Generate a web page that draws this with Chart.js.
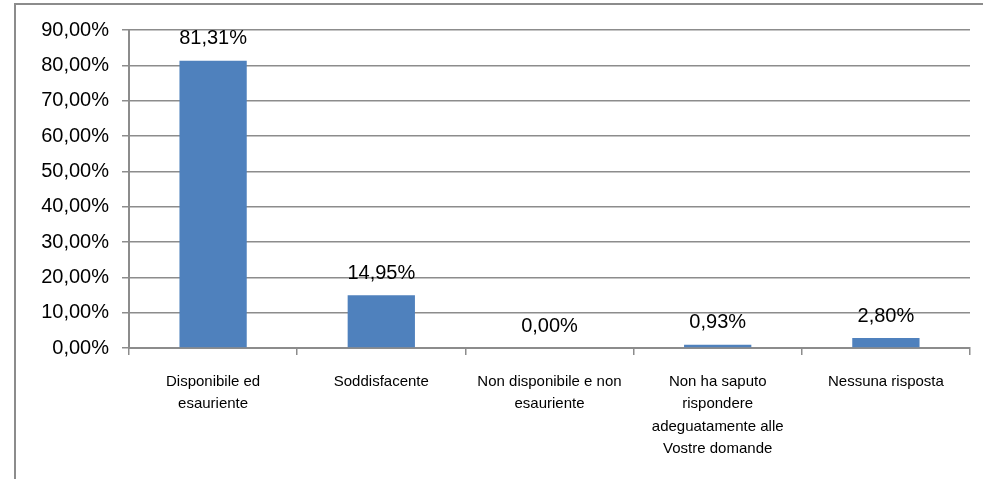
<!DOCTYPE html>
<html>
<head>
<meta charset="utf-8">
<script src="https://cdn.jsdelivr.net/npm/chart.js@4/dist/chart.umd.min.js"></script>
<style>
  html, body { margin: 0; padding: 0; background: #fff; overflow: hidden; }
  #frame {
    position: absolute; left: 14px; top: 3px; width: 1000px; height: 500px;
    border-left: 2px solid #8c8c8c; border-top: 2px solid #8c8c8c;
  }
  #wrap { position: absolute; left: 0; top: 0; width: 983px; height: 479px; }
</style>
</head>
<body>
<div id="frame"></div>
<div id="wrap"><canvas id="chart"></canvas></div>
<script>
const categories = [
  ['Disponibile ed', 'esauriente'],
  ['Soddisfacente'],
  ['Non disponibile e non', 'esauriente'],
  ['Non ha saputo', 'rispondere', 'adeguatamente alle', 'Vostre domande'],
  ['Nessuna risposta']
];
const values = [81.31, 14.95, 0.00, 0.93, 2.80];
const yMax = 90;
const yStep = 10;

const fmt = v => v.toFixed(2).replace('.', ',') + '%';

const valueLabels = {
  id: 'valueLabels',
  afterDatasetsDraw(chart) {
    const ctx = chart.ctx;
    const meta = chart.getDatasetMeta(0);
    ctx.save();
    ctx.font = '20px "Liberation Sans", Arial, sans-serif';
    ctx.fillStyle = '#000';
    ctx.textAlign = 'center';
    ctx.textBaseline = 'middle';
    meta.data.forEach((bar, i) => {
      ctx.fillText(fmt(values[i]), bar.x, bar.y - 22);
    });
    ctx.restore();
  }
};

new Chart(document.getElementById('chart'), {
  type: 'bar',
  data: {
    labels: categories,
    datasets: [{
      data: values,
      backgroundColor: '#4f81bd',
      borderColor: '#6a95c8',
      borderWidth: 0,
      categoryPercentage: 1,
      barPercentage: 0.4
    }]
  },
  options: {
    responsive: true,
    maintainAspectRatio: false,
    animation: false,
    layout: { padding: { left: 0, right: 13, top: 30, bottom: 0 } },
    plugins: { legend: { display: false }, tooltip: { enabled: false } },
    scales: {
      x: {
        offset: true,
        grid: { offset: true, drawOnChartArea: false, color: '#8c8c8c', tickLength: 7, lineWidth: 1.5 },
        border: { color: '#8c8c8c', width: 2 },
        ticks: {
          color: '#000',
          padding: 16,
          maxRotation: 0,
          autoSkip: false,
          font: { family: '"Liberation Sans", Arial, sans-serif', size: 15, lineHeight: 1.48 }
        },
        afterFit(scale) { scale.height = 131; }
      },
      y: {
        min: 0,
        max: yMax,
        grid: { color: '#8c8c8c', tickLength: 7, lineWidth: 1.5 },
        border: { color: '#8c8c8c', width: 2 },
        ticks: {
          stepSize: yStep,
          color: '#000',
          padding: 13,
          font: { family: '"Liberation Sans", Arial, sans-serif', size: 20 },
          callback: v => fmt(v)
        },
        afterFit(scale) { scale.width = 129; }
      }
    }
  },
  plugins: [valueLabels]
});
</script>
</body>
</html>
